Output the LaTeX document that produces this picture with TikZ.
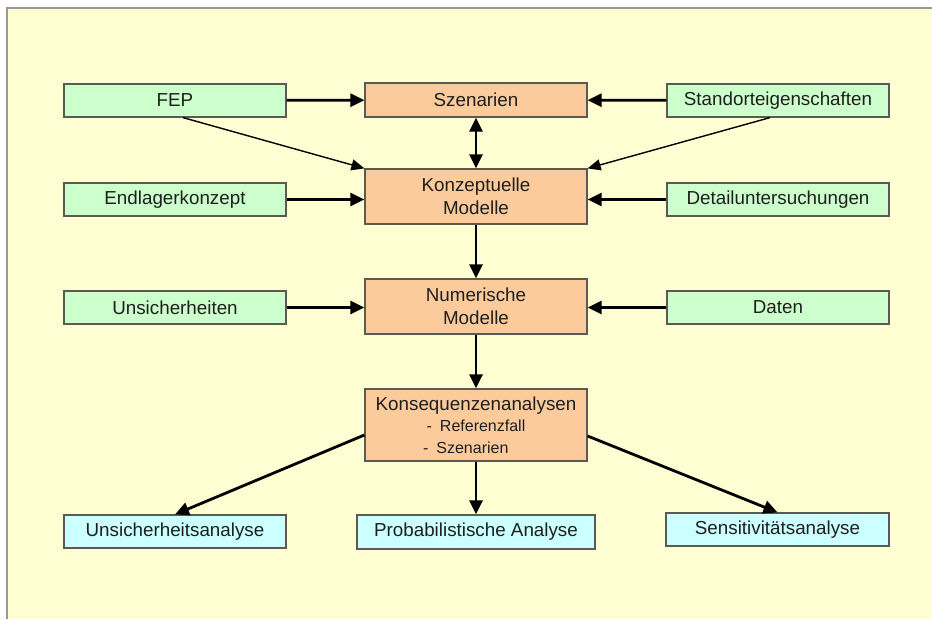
\documentclass[tikz,border=0pt]{standalone}
\usepackage{fontspec}
\setmainfont{Liberation Sans}
\usetikzlibrary{arrows.meta,calc}
\definecolor{bgyellow}{HTML}{FFFDD2}
\definecolor{boxgreen}{HTML}{CCFFCC}
\definecolor{boxorange}{HTML}{FCCB9C}
\definecolor{boxblue}{HTML}{CCFFFF}
\definecolor{edgegray}{HTML}{5A5A52}
\definecolor{txt}{HTML}{1E1E1E}
\begin{document}
\begin{tikzpicture}[x=1pt,y=-1pt,
  basebox/.style={draw=edgegray, line width=1.2pt, inner sep=0pt, align=center,
    text=txt, font=\fontsize{18.8}{22.5}\selectfont},
  greenbox/.style={basebox, fill=boxgreen, minimum width=222pt, minimum height=33pt},
  orangebox/.style={basebox, fill=boxorange, minimum width=222pt},
  bluebox/.style={basebox, fill=boxblue, minimum height=33pt},
  arr/.style={line width=2.8pt, -{Triangle[length=14pt,width=13pt]}},
  darr/.style={line width=2.8pt, {Triangle[length=14pt,width=13pt]}-{Triangle[length=14pt,width=13pt]}},
  thinarr/.style={line width=1.4pt, -{Triangle[length=13pt,width=11pt]}}
]
\useasboundingbox (0,0) rectangle (932,619);
\fill[white] (0,0) rectangle (932,619);
\fill[bgyellow] (7,8) rectangle (932,619);
\draw[gray!80, line width=1.3pt] (7,619) -- (7,8) -- (932,8);

% row 1
\node[greenbox] (fep) at (175,100.5) {FEP};
\node[orangebox, minimum height=34pt] (szen) at (476,100) {Szenarien};
\node[greenbox] (stand) at (778,100.5) {Standorteigenschaften};
% row 2
\node[greenbox] (endl) at (175,199.5) {Endlagerkonzept};
\node[orangebox, minimum height=55pt] (konz) at (476,196.5) {Konzeptuelle\\Modelle};
\node[greenbox] (detail) at (778,199.5) {Detailuntersuchungen};
% row 3
\node[greenbox] (unsich) at (175,307.5) {Unsicherheiten};
\node[orangebox, minimum height=55pt] (num) at (476,306.5) {Numerische\\Modelle};
\node[greenbox] (daten) at (778,307.5) {Daten};
% row 4
\node[orangebox, minimum height=72pt] (kons) at (476,425) {Konsequenzenanalysen\\[-1pt]
  {\fontsize{16}{20}\selectfont -\enspace Referenzfall}\\[-1pt]
  {\fontsize{16}{20}\selectfont -\enspace Szenarien\hphantom{fall}}};
% row 5
\node[bluebox, minimum width=222pt] (ua) at (175,531.5) {Unsicherheitsanalyse};
\node[bluebox, minimum width=238pt, minimum height=34pt] (pa) at (476,532) {Probabilistische Analyse};
\node[bluebox, minimum width=223pt] (sa) at (777.5,529.5) {Sensitivitätsanalyse};

% connectors
\draw[arr] (fep) -- (szen);
\draw[arr] (stand) -- (szen);
\draw[darr] (szen) -- (konz);
\coordinate (fepout) at ($(fep.south)+(8,0)$);
\coordinate (standout) at ($(stand.south)+(-8,0)$);
\draw[thinarr] (fepout) -- (konz.north west);
\draw[thinarr] (standout) -- (konz.north east);
\draw[arr] (endl) -- (konz.west |- endl);
\draw[arr] (detail) -- (konz.east |- detail);
\draw[arr] (konz) -- (num);
\draw[arr] (unsich) -- (num.west |- unsich);
\draw[arr] (daten) -- (num.east |- daten);
\draw[arr] (num) -- (kons);
\coordinate (konsl) at ($(kons.west)+(0,10)$);
\coordinate (konsr) at ($(kons.east)+(0,11)$);
\draw[arr] (konsl) -- (ua.north);
\draw[arr] (kons) -- (pa);
\draw[arr] (konsr) -- (sa.north);
\end{tikzpicture}
\end{document}
